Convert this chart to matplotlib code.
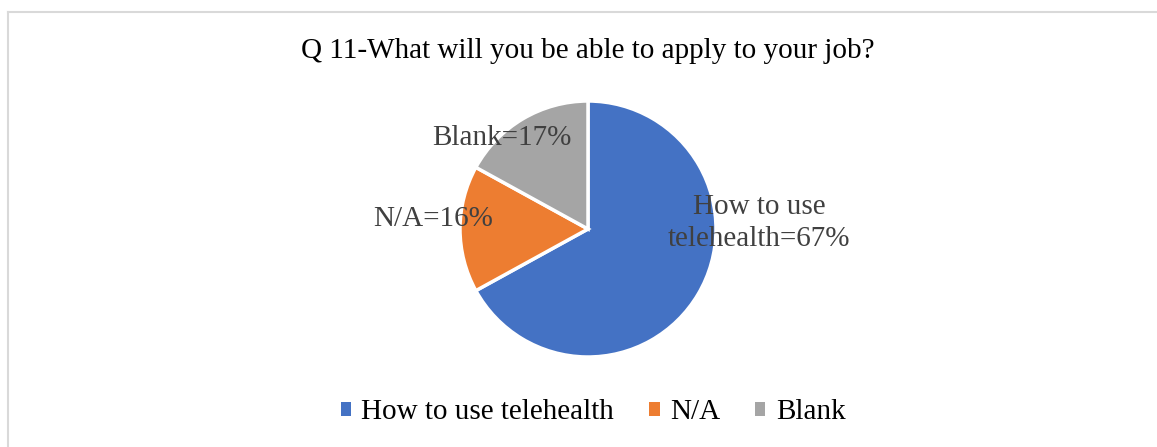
import matplotlib
matplotlib.use("Agg")
import matplotlib.pyplot as plt
from matplotlib.patches import Rectangle
from matplotlib.lines import Line2D

categories = ["How to use telehealth", "N/A", "Blank"]
label_names = ["How to use\ntelehealth", "N/A", "Blank"]
percentages = [67, 16, 17]
colors = ["#4472C4", "#ED7D31", "#A5A5A5"]
title = "Q 11-What will you be able to apply to your job?"

W, H = 1157, 447
plt.rcParams["font.family"] = ["Liberation Serif", "DejaVu Serif"]
FS = 21

fig = plt.figure(figsize=(W / 100, H / 100), dpi=100)

# chart frame: top and left edges (the rest runs off the canvas)
frame_kw = dict(transform=fig.transFigure, color="#D9D9D9", linewidth=1.5)
fig.lines.append(Line2D([8 / W, 1.0], [1 - 12 / H, 1 - 12 / H], **frame_kw))
fig.lines.append(Line2D([8 / W, 8 / W], [0.0, 1 - 12 / H], **frame_kw))

cx, cy, r = 588, 229, 128
ax = fig.add_axes([(cx - r) / W, (H - cy - r) / H, 2 * r / W, 2 * r / H])
wedges, _ = ax.pie(percentages, colors=colors, startangle=90, counterclock=False,
                   radius=1.0, wedgeprops=dict(edgecolor="white", linewidth=2.5))
ax.set_xlim(-1, 1)
ax.set_ylim(-1, 1)
ax.set_aspect("equal")
ax.axis("off")

fig.text(588 / W, 1 - 51 / H, title, ha="center", va="center",
         fontsize=FS, color="#000000")

lab = [f"{n}={p}%" for n, p in zip(label_names, percentages)]
fig.text(759 / W, 1 - 223 / H, lab[0], ha="center", va="center",
         multialignment="center", fontsize=FS, color="#404040", linespacing=1.32)
fig.text(433 / W, 1 - 219 / H, lab[1], ha="center", va="center",
         fontsize=FS, color="#404040")
fig.text(502 / W, 1 - 138 / H, lab[2], ha="center", va="center",
         fontsize=FS, color="#404040")

handles = [Rectangle((0, 0), 1, 1, facecolor=c, edgecolor="none") for c in colors]
fig.legend(handles, categories, loc="center", bbox_to_anchor=(593 / W, 1 - 412 / H),
           ncol=3, frameon=False, fontsize=FS, handlelength=0.36, handleheight=0.36,
           handletextpad=0.35, columnspacing=1.2)

fig.savefig("out.png", dpi=100)
